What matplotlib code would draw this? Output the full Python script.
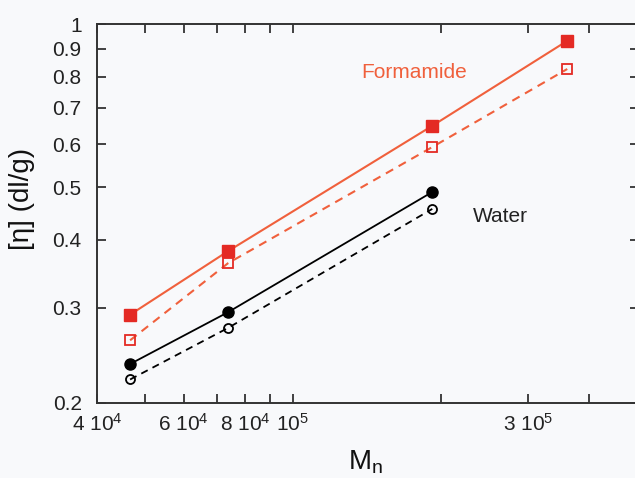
import matplotlib
matplotlib.use('Agg')
import matplotlib.pyplot as plt

plt.rcParams['font.family'] = ['Liberation Sans', 'DejaVu Sans']
plt.rcParams['mathtext.fontset'] = 'custom'
plt.rcParams['mathtext.rm'] = 'Liberation Sans'
plt.rcParams['mathtext.it'] = 'Liberation Sans'

# Data
mn_form = [4.67e4, 7.38e4, 1.92e5, 3.61e5]
eta_form_filled = [0.291, 0.381, 0.649, 0.931]
eta_form_open = [0.261, 0.362, 0.593, 0.826]

mn_water = [4.67e4, 7.38e4, 1.92e5]
eta_water_filled = [0.236, 0.294, 0.490]
eta_water_open = [0.221, 0.275, 0.456]

x_ticks = [4e4, 5e4, 6e4, 7e4, 8e4, 9e4, 1e5, 2e5, 3e5, 4e5]
x_labels = ['4 10$^4$', '', '6 10$^4$', '', '8 10$^4$', '', '10$^5$', '', '3 10$^5$', '']
y_ticks = [0.2, 0.3, 0.4, 0.5, 0.6, 0.7, 0.8, 0.9, 1.0]
y_labels = ['0.2', '0.3', '0.4', '0.5', '0.6', '0.7', '0.8', '0.9', '1']

red_line = '#f0603c'
red_mark = '#e42a24'
bg = '#f8f9fb'

fig = plt.figure(figsize=(6.35, 4.78), dpi=100, facecolor=bg)
# right spine sits just past the image edge, as in the original scan
ax = fig.add_axes([97/635, 1-403/478, 542/635, 379/478])
ax.set_facecolor(bg)

# Formamide
ax.plot(mn_form, eta_form_filled, '-', color=red_line, lw=1.5, marker='s', ms=8.5,
        mfc=red_mark, mec=red_mark)
ax.plot(mn_form, eta_form_open, '--', color=red_line, lw=1.5, dashes=(4, 3), marker='s', ms=7,
        mfc='none', mec=red_mark, mew=1.3)

# Water
ax.plot(mn_water, eta_water_filled, '-', color='black', lw=1.3, marker='o', ms=8,
        mfc='black', mec='black')
ax.plot(mn_water, eta_water_open, '--', color='black', lw=1.3, dashes=(4, 3), marker='o', ms=6.5,
        mfc='none', mec='black', mew=1.3)

ax.set_xscale('log')
ax.set_yscale('log')
ax.set_xlim(4e4, 5.05e5)
ax.set_ylim(0.2, 1.0)

ax.set_xticks(x_ticks)
ax.set_xticklabels(x_labels)
ax.set_yticks(y_ticks)
ax.set_yticklabels(y_labels)
ax.minorticks_off()
ax.tick_params(which='both', direction='in', top=True, right=True, length=6.5, width=1.2,
               labelsize=15, colors='#222222')
ax.tick_params(axis='y', pad=11)
ax.tick_params(axis='x', pad=7)

for s in ax.spines.values():
    s.set_linewidth(1.4)
    s.set_color('#333333')

ax.text(0.586, 0.873, 'Formamide', color=red_line, fontsize=15, ha='center', va='center',
        transform=ax.transAxes)
ax.text(0.744, 0.491, 'Water', color='#222222', fontsize=15, ha='center', va='center',
        transform=ax.transAxes)

fig.text(366/635, 1-462/478, 'M$_{n}$', fontsize=20, ha='center', va='center', color='#111111')
fig.text(22/635, 1-199/478, '[η] (dl/g)', fontsize=20, rotation=90, ha='center', va='center',
         color='#111111')

fig.savefig('out.png', dpi=100, facecolor=bg)
